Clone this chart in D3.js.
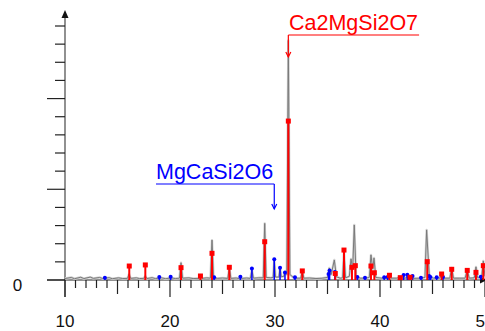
<!DOCTYPE html>
<html>
<head>
<meta charset="utf-8">
<script src="https://cdn.jsdelivr.net/npm/d3@7"></script>
<style>
  html, body { margin: 0; padding: 0; background: #fff; }
  svg { display: block; font-family: "Liberation Sans", Arial, sans-serif; }
</style>
</head>
<body>
<div id="chart"></div>
<script>
// measured pattern (2theta, counts)
const observed = [
  [10,8],[10.6,14],[10.9,7],[11.5,15],[11.8,8],[12.4,16],[12.7,9],[13.3,14],[13.6,8],[14.2,13],[14.5,7],
  [15.1,12],[15.5,8],[15.95,9],[16.1,33],[16.25,9],[16.8,12],[17.1,8],[17.5,9],[17.65,22],[17.8,8],
  [18.3,13],[18.6,8],[19.2,12],[19.6,7],[20.1,12],[20.5,8],[20.9,10],[21.05,95],[21.2,10],[21.8,12],
  [22.2,8],[22.75,9],[22.9,22],[23.05,9],[23.5,12],[23.85,10],[24.0,220],[24.15,12],[24.5,9],[25.0,11],
  [25.5,9],[25.65,66],[25.8,9],[26.3,11],[26.55,8],[26.7,17],[26.85,9],[27.3,11],[27.65,9],[27.8,55],
  [27.95,10],[28.4,12],[28.88,12],[29.02,312],[29.16,14],[29.6,12],[29.82,14],[29.93,113],[30.05,16],
  [30.37,16],[30.48,66],[30.6,18],[30.84,20],[30.95,44],[31.12,30],[31.27,1320],[31.42,30],[31.75,14],
  [31.9,17],[32.05,10],[32.45,10],[32.6,50],[32.75,10],[33.3,11],[33.9,8],[34.5,10],[35.0,14],
  [35.17,66],[35.35,30],[35.65,110],[35.85,18],[36.2,10],[36.44,12],[36.57,160],[36.72,12],[37.08,20],
  [37.24,116],[37.4,60],[37.55,303],[37.72,22],[38.1,10],[38.6,10],[38.98,14],[39.14,138],[39.3,60],
  [39.43,121],[39.6,14],[40.2,10],[40.75,10],[40.9,28],[41.05,10],[41.6,10],[41.93,16],[42.2,10],
  [42.7,12],[43.2,9],[43.8,10],[44.28,14],[44.44,276],[44.55,165],[44.7,18],[45.1,10],[45.7,10],
  [45.87,33],[46.05,10],[46.65,10],[46.83,66],[47.0,10],[47.6,10],[48.1,10],[48.31,55],[48.5,10],
  [48.98,12],[49.14,72],[49.3,12],[49.68,16],[49.84,105],[50,20]
];

// reference lines
const akermanitePos = [16.12,17.65,21.05,22.9,24.0,25.65,29.02,31.27,32.6,35.74,36.57,37.33,37.65,39.14,39.46,40.9,41.93,42.86,44.5,45.87,46.83,48.31,49.14,49.84];
const akermaniteInt = [77,83,68,22,147,70,211,876,50,36,165,70,79,77,40,26,13,15,101,33,59,53,42,79];
const diopsidePos = [13.8,18.98,20.06,24.2,26.7,27.8,29.93,30.48,30.95,31.9,35.1,35.2,35.7,37.84,38.57,40.4,40.73,42.25,42.6,42.7,43.1,43.9,44.67,44.8,45.4,46.0,49.6];
const diopsideInt = [13,17,18,15,18,64,115,68,42,15,33,52,44,17,13,15,17,28,29,17,22,13,22,17,15,17,18];

const xTicks = d3.range(10, 51, 1);
const xLabels = [10, 20, 30, 40, 50];
const yTicks = d3.range(0, 1401, 100);

const width = 485, height = 331;
const svg = d3.select('#chart').append('svg').attr('width', width).attr('height', height);

const x = d3.scaleLinear().domain([10, 50]).range([65, 485]);
const y = d3.scaleLinear().domain([0, 1400]).range([280, 26]);

const axisColor = '#222';

// y axis
svg.append('line')
  .attr('x1', x(10)).attr('x2', x(10))
  .attr('y1', 15).attr('y2', 297)
  .attr('stroke', '#555').attr('stroke-width', 1.3);
svg.append('path')
  .attr('d', `M${x(10) - 3.5},18 L${x(10)},10 L${x(10) + 3.5},18 Z`)
  .attr('fill', '#111');

svg.selectAll('.ytick')
  .data(yTicks)
  .enter()
  .append('line')
  .attr('x1', d => d % 500 === 0 ? 47 : 55)
  .attr('x2', x(10))
  .attr('y1', d => y(d)).attr('y2', d => y(d))
  .attr('stroke', axisColor).attr('stroke-width', 1.2);

svg.append('text')
  .attr('x', 17.5).attr('y', 291)
  .attr('text-anchor', 'middle')
  .attr('font-size', 17)
  .attr('fill', '#111')
  .text('0');

// x axis
svg.append('line')
  .attr('x1', 47).attr('x2', 485)
  .attr('y1', y(0)).attr('y2', y(0))
  .attr('stroke', axisColor).attr('stroke-width', 1.2);
svg.append('path')
  .attr('d', `M480,${y(0) - 3.5} L487,${y(0)} L480,${y(0) + 3.5} Z`)
  .attr('fill', '#111');

svg.selectAll('.xtick')
  .data(xTicks)
  .enter()
  .append('line')
  .attr('x1', d => x(d)).attr('x2', d => x(d))
  .attr('y1', y(0))
  .attr('y2', d => y(0) + (d % 10 === 0 ? 17 : d % 5 === 0 ? 14 : 8))
  .attr('stroke', axisColor).attr('stroke-width', 1.2);

svg.selectAll('.xlabel')
  .data(xLabels)
  .enter()
  .append('text')
  .attr('x', d => x(d)).attr('y', 327)
  .attr('text-anchor', 'middle')
  .attr('font-size', 17)
  .attr('fill', '#111')
  .text(d => d);

// observed pattern
const line = d3.line().x(d => x(d[0])).y(d => y(d[1]));
svg.append('path')
  .datum(observed)
  .attr('d', line)
  .attr('fill', 'none')
  .attr('stroke', '#d2d2d2')
  .attr('stroke-width', 2.4)
  .attr('stroke-linejoin', 'round');
svg.append('path')
  .datum(observed)
  .attr('d', line)
  .attr('fill', 'none')
  .attr('stroke', '#7a7a7a')
  .attr('stroke-width', 1)
  .attr('stroke-linejoin', 'round');

// phase sticks
const akermanite = akermanitePos.map((p, i) => ({ pos: p, val: akermaniteInt[i] }));
const diopside = diopsidePos.map((p, i) => ({ pos: p, val: diopsideInt[i] }));

svg.selectAll('.dstick')
  .data(diopside)
  .enter()
  .append('line')
  .attr('x1', d => x(d.pos)).attr('x2', d => x(d.pos))
  .attr('y1', y(0)).attr('y2', d => y(d.val))
  .attr('stroke', '#0000ff').attr('stroke-width', 1.5);
svg.selectAll('.ddot')
  .data(diopside)
  .enter()
  .append('circle')
  .attr('cx', d => x(d.pos)).attr('cy', d => y(d.val))
  .attr('r', 2)
  .attr('fill', '#0000ff');

svg.selectAll('.astick')
  .data(akermanite)
  .enter()
  .append('line')
  .attr('x1', d => x(d.pos)).attr('x2', d => x(d.pos))
  .attr('y1', y(0)).attr('y2', d => y(d.val))
  .attr('stroke', '#ff0000').attr('stroke-width', 2);
svg.selectAll('.asq')
  .data(akermanite)
  .enter()
  .append('rect')
  .attr('x', d => x(d.pos) - 2.5).attr('y', d => y(d.val) - 2.5)
  .attr('width', 5).attr('height', 5)
  .attr('fill', '#ff0000');

// phase labels with leaders
function label(text, color, peak, textX, lineY, arrowY, anchorRight) {
  const px = x(peak);
  const t = svg.append('text')
    .attr('x', textX).attr('y', lineY - 5)
    .attr('font-size', 21.5)
    .attr('fill', color)
    .text(text);
  const w = t.node().getComputedTextLength();
  const x1 = anchorRight ? textX : px;
  const x2 = anchorRight ? px : textX + w + 1;
  svg.append('line')
    .attr('x1', x1).attr('x2', x2)
    .attr('y1', lineY).attr('y2', lineY)
    .attr('stroke', color).attr('stroke-width', 1.2);
  svg.append('line')
    .attr('x1', px).attr('x2', px)
    .attr('y1', lineY).attr('y2', arrowY)
    .attr('stroke', color).attr('stroke-width', 1.2);
  svg.append('path')
    .attr('d', `M${px - 2.5},${arrowY - 5} L${px},${arrowY} L${px + 2.5},${arrowY - 5}`)
    .attr('fill', 'none')
    .attr('stroke', color).attr('stroke-width', 1.2);
}

label('MgCaSi2O6', '#0000ff', 29.93, 156, 184, 209, true);
label('Ca2MgSi2O7', '#ff0000', 31.27, 289, 35, 57, false);
</script>
</body>
</html>
